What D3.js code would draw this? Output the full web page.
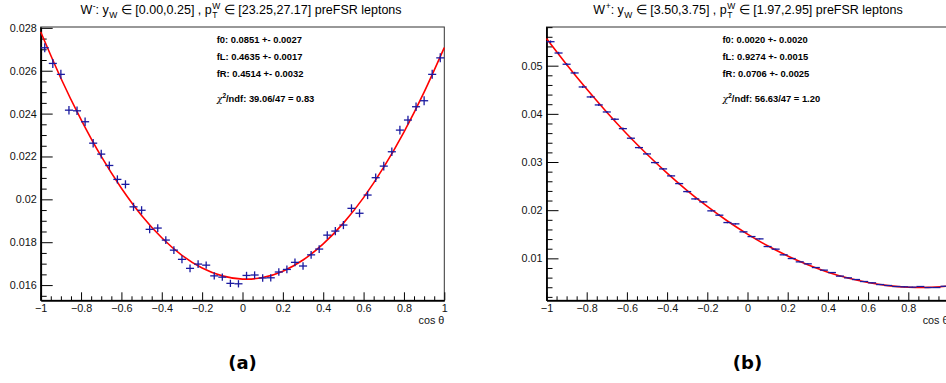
<!DOCTYPE html>
<html><head><meta charset="utf-8">
<script src="https://cdn.jsdelivr.net/npm/d3@7"></script>
<style>body{margin:0;background:#fff}svg{display:block;background:#fff;font-family:"Liberation Sans",Arial,sans-serif}</style>
</head><body><svg id="c" width="946" height="383"></svg>
<script>
// ---------- data ----------
const cosTheta = [-0.98,-0.94,-0.90,-0.86,-0.82,-0.78,-0.74,-0.70,-0.66,-0.62,-0.58,-0.54,-0.50,-0.46,-0.42,-0.38,-0.34,-0.30,-0.26,-0.22,-0.18,-0.14,-0.10,-0.06,-0.02,
  0.02,0.06,0.10,0.14,0.18,0.22,0.26,0.30,0.34,0.38,0.42,0.46,0.50,0.54,0.58,0.62,0.66,0.70,0.74,0.78,0.82,0.86,0.90,0.94,0.98];
const binHalfWidth = 0.02;

const valuesA = [0.02707,0.02634,0.02583,0.02416,0.02413,0.02362,0.02262,0.02211,0.02158,0.02093,
  0.02070,0.01965,0.01949,0.01860,0.01866,0.01810,0.01763,0.01720,0.01678,0.01698,
  0.01693,0.01643,0.01637,0.01608,0.01606,0.01645,0.01647,0.01633,0.01634,0.01661,
  0.01673,0.01706,0.01689,0.01741,0.01768,0.01833,0.01852,0.01880,0.01958,0.01935,
  0.02020,0.02101,0.02155,0.02222,0.02323,0.02370,0.02432,0.02460,0.02583,0.02660];
const errorsA = [0.00021,0.00021,0.00021,0.0002,0.0002,0.0002,0.0002,0.0002,0.00019,0.00019,
  0.00019,0.00019,0.00019,0.00018,0.00018,0.00018,0.00018,0.00018,0.00018,0.00018,
  0.00017,0.00017,0.00017,0.00017,0.00017,0.00017,0.00017,0.00017,0.00017,0.00017,
  0.00018,0.00018,0.00018,0.00018,0.00018,0.00018,0.00019,0.00019,0.00019,0.00019,
  0.00019,0.0002,0.0002,0.0002,0.0002,0.0002,0.0002,0.00021,0.00021,0.00021];

const valuesB = [0.05498,0.05263,0.05030,0.04849,0.04558,0.04351,0.04185,0.04039,0.03888,0.03693,
  0.03494,0.03299,0.03168,0.02988,0.02857,0.02712,0.02552,0.02386,0.02234,0.02172,
  0.01986,0.01896,0.01743,0.01716,0.01550,0.01452,0.01404,0.01245,0.01191,0.01073,
  0.00996,0.00927,0.00886,0.00809,0.00755,0.00705,0.00631,0.00595,0.00560,0.00519,
  0.00492,0.00456,0.00436,0.00415,0.00409,0.00402,0.00415,0.00394,0.00394,0.00420];
const errorsB = [0.00026,0.00025,0.00024,0.00024,0.00023,0.00023,0.00022,0.00022,0.00021,0.00021,
  0.0002,0.0002,0.00019,0.00019,0.00018,0.00018,0.00017,0.00017,0.00016,0.00016,
  0.00015,0.00015,0.00014,0.00014,0.00013,0.00013,0.00012,0.00012,0.00011,0.00011,
  0.0001,0.0001,0.0001,0.00009,0.00009,0.00009,0.00008,0.00008,0.00008,0.00008,
  0.00007,0.00007,0.00007,0.00007,0.00007,0.00007,0.00007,0.00007,0.00007,0.00007];

// fit curves sampled along cos theta
const fitX = [-1,-0.9,-0.8,-0.7,-0.6,-0.5,-0.4,-0.3,-0.2,-0.1,0,0.1,0.2,0.3,0.4,0.5,0.6,0.7,0.8,0.9,1];
const fitA = [0.02781,0.02565,0.02372,0.02200,0.02052,0.01925,0.01821,0.01739,0.01680,0.01643,0.01628,
  0.01635,0.01665,0.01717,0.01792,0.01889,0.02008,0.02150,0.02314,0.02500,0.02708];
const fitB = [0.05564,0.05024,0.04514,0.04033,0.03582,0.03161,0.02770,0.02408,0.02077,0.01775,0.01503,
  0.01261,0.01049,0.00866,0.00713,0.00591,0.00498,0.00434,0.00401,0.00397,0.00424];

// ticks
const xTicks = [-1,-0.8,-0.6,-0.4,-0.2,0,0.2,0.4,0.6,0.8,1];
const xTickLabels = ["\u22121","\u22120.8","\u22120.6","\u22120.4","\u22120.2","0","0.2","0.4","0.6","0.8","1"];
const yTicksA = [0.016,0.018,0.02,0.022,0.024,0.026,0.028];
const yTickLabelsA = ["0.016","0.018","0.02","0.022","0.024","0.026","0.028"];
const yTicksB = [0.01,0.02,0.03,0.04,0.05];
const yTickLabelsB = ["0.01","0.02","0.03","0.04","0.05"];

// texts
const statsA = ["f0: 0.0851 +- 0.0027","fL: 0.4635 +- 0.0017","fR: 0.4514 +- 0.0032"];
const chi2A = "/ndf: 39.06/47 = 0.83";
const statsB = ["f0: 0.0020 +- 0.0020","fL: 0.9274 +- 0.0015","fR: 0.0706 +- 0.0025"];
const chi2B = "/ndf: 56.63/47 = 1.20";
const titleA = [{t:"W"},{sup:"-"},{t:": y"},{sub:"W"},{t:" \u2208 [0.00,0.25] , p"},{sup:"W",sub:"T"},{t:" \u2208 [23.25,27.17] preFSR leptons"}];
const titleB = [{t:"W"},{sup:"+"},{t:": y"},{sub:"W"},{t:" \u2208 [3.50,3.75] , p"},{sup:"W",sub:"T"},{t:" \u2208 [1.97,2.95] preFSR leptons"}];

// ---------- drawing ----------
const svg = d3.select("#c");

function drawTitle(parts, cx, base){
  const g = svg.append("g").style("white-space","pre");
  let cur = 0;
  parts.forEach(p=>{
    if(p.t!==undefined){
      const t = g.append("text").attr("x",cur).attr("y",0).attr("font-size",12.5).text(p.t.replace(/ /g,"\u00a0"));
      cur += t.node().getComputedTextLength();
    } else {
      let w = 0;
      if(p.sup!==undefined){
        const t = g.append("text").attr("x",cur+0.5).attr("y",-5.5).attr("font-size",8.5).text(p.sup);
        w = Math.max(w,t.node().getComputedTextLength()+0.5);
      }
      if(p.sub!==undefined){
        const t = g.append("text").attr("x",cur+0.5).attr("y",4).attr("font-size",8.5).text(p.sub);
        w = Math.max(w,t.node().getComputedTextLength()+0.5);
      }
      cur += w;
    }
  });
  g.attr("transform",`translate(${cx-cur/2},${base})`);
}

function panel(o){
  const x = d3.scaleLinear().domain([-1,1]).range([o.x0,o.x1]);
  const y = d3.scaleLinear().domain(o.yDomain).range([o.y1,o.y0]);
  const g = svg.append("g");

  g.append("rect").attr("x",o.x0).attr("y",o.y0).attr("width",o.x1-o.x0).attr("height",o.y1-o.y0)
    .attr("fill","none").attr("stroke","#333").attr("stroke-width",1);

  // minor ticks
  const minorX = d3.range(-1,1.0001,0.05).map(v=>+v.toFixed(3)).filter(v=>!xTicks.some(t=>Math.abs(t-v)<1e-6));
  g.append("g").attr("transform",`translate(0,${o.y1})`)
    .call(d3.axisBottom(x).tickValues(minorX).tickSize(-4).tickFormat(""))
    .call(s=>s.select(".domain").remove());
  const minorY = d3.range(o.yMinorStart,o.yDomain[1],o.yMinorStep).map(v=>+v.toFixed(6)).filter(v=>v>o.yDomain[0] && !o.yTicks.some(t=>Math.abs(t-v)<1e-9));
  g.append("g").attr("transform",`translate(${o.x0},0)`)
    .call(d3.axisLeft(y).tickValues(minorY).tickSize(-6).tickFormat(""))
    .call(s=>s.select(".domain").remove());

  // major axes
  const xa = g.append("g").attr("transform",`translate(0,${o.y1})`)
    .call(d3.axisBottom(x).tickValues(xTicks).tickFormat((d,i)=>xTickLabels[i]).tickSize(-8).tickSizeOuter(0).tickPadding(4));
  const ya = g.append("g").attr("transform",`translate(${o.x0},0)`)
    .call(d3.axisLeft(y).tickValues(o.yTicks).tickFormat((d,i)=>o.yTickLabels[i]).tickSize(-12).tickSizeOuter(0).tickPadding(4));
  [xa,ya].forEach(a=>{
    a.attr("font-family",null).attr("font-size",null);
    a.selectAll("text").attr("font-size",10.8).attr("fill","#111");
    a.select(".domain").attr("stroke","#000").attr("stroke-width",1.8);
  });
  g.selectAll(".tick line").attr("stroke","#000").attr("stroke-width",1);

  // x title
  g.append("text").attr("x",o.x1).attr("y",o.y1+24).attr("text-anchor","end").attr("font-size",10.8).attr("fill","#111").text("cos \u03b8");

  // fit curve
  const line = d3.line().x((d,i)=>x(fitX[i])).y(d=>y(d)).curve(d3.curveNatural);
  g.append("path").attr("d",line(o.fit)).attr("fill","none").attr("stroke","#ff0000").attr("stroke-width",1.6);

  // data crosses
  const pts = g.append("g").attr("stroke","#1a1aa0").attr("stroke-width",1.3);
  cosTheta.forEach((c,i)=>{
    const v = o.values[i], e = o.errors[i];
    pts.append("line").attr("x1",x(c-binHalfWidth)).attr("x2",x(c+binHalfWidth)).attr("y1",y(v)).attr("y2",y(v));
    pts.append("line").attr("x1",x(c)).attr("x2",x(c)).attr("y1",y(v-e)).attr("y2",y(v+e));
  });

  // stats
  const sx = o.x0+176;
  [43,60,77].forEach((b,i)=>{
    g.append("text").attr("x",sx).attr("y",b).attr("font-size",9.4).attr("font-weight","bold").text(o.stats[i]);
  });
  const ct = g.append("text").attr("x",sx).attr("y",101.5).attr("font-size",9.4).attr("font-weight","bold");
  ct.append("tspan").style("font-style","italic").style("font-weight","normal").style("font-family","'DejaVu Serif',serif").text("\u03c7");
  ct.append("tspan").attr("dy",-3.5).attr("font-size",6.5).text("2");
  ct.append("tspan").attr("dy",3.5).text(o.chi2);

  drawTitle(o.title, o.tcx, 14);
  svg.append("text").attr("x",(o.x0+o.x1)/2).attr("y",369).attr("text-anchor","middle")
    .style("font-family","'DejaVu Sans',sans-serif").style("font-weight","bold").attr("font-size",18).text(o.label);
}

panel({x0:40.7,x1:444.3,y0:27,y1:300.3,yDomain:[0.01529,0.02804],yTicks:yTicksA,yTickLabels:yTickLabelsA,
  yMinorStart:0.015,yMinorStep:0.0005,values:valuesA,errors:errorsA,fit:fitA,stats:statsA,chi2:chi2A,
  title:titleA,tcx:241,label:"(a)"});
panel({x0:546.5,x1:948.5,y0:27,y1:300.3,yDomain:[0.00129,0.05803],yTicks:yTicksB,yTickLabels:yTickLabelsB,
  yMinorStart:0.002,yMinorStep:0.002,values:valuesB,errors:errorsB,fit:fitB,stats:statsB,chi2:chi2B,
  title:titleB,tcx:748,label:"(b)"});
</script></body></html>
